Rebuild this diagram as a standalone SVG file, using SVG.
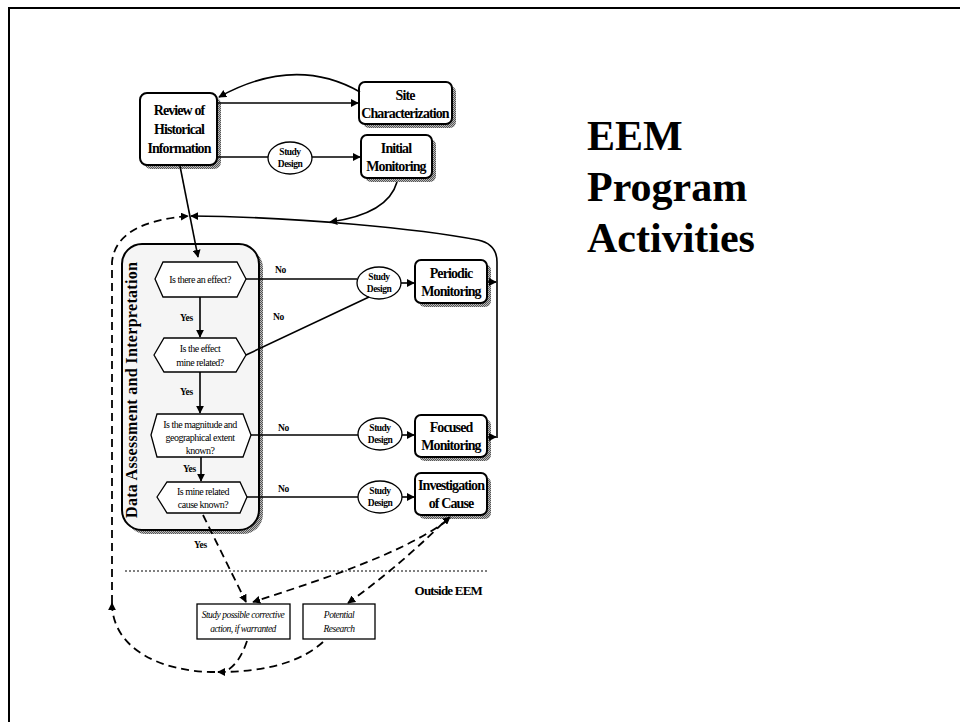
<svg xmlns="http://www.w3.org/2000/svg" width="960" height="722" viewBox="0 0 960 722">
<defs>
<marker id="ah" viewBox="0 0 10 10" refX="9" refY="5" markerWidth="8" markerHeight="8" markerUnits="userSpaceOnUse" orient="auto"><path d="M0,0 L10,5 L0,10 z" fill="#000"/></marker>
<pattern id="sh" width="2" height="2" patternUnits="userSpaceOnUse"><rect width="2" height="2" fill="#bbb"/><rect width="1" height="1" fill="#555"/><rect x="1" y="1" width="1" height="1" fill="#555"/></pattern>
<style>
.t{font-family:"Liberation Serif","Times New Roman",serif;fill:#000}
.bx{font-size:14px;font-weight:bold;letter-spacing:-0.9px;text-anchor:middle}
.q{font-size:10px;letter-spacing:-0.5px;text-anchor:middle}
.sd{font-size:9.5px;font-weight:bold;letter-spacing:-0.5px;text-anchor:middle}
.lb{font-size:9.5px;font-weight:bold;letter-spacing:-0.3px}
.it{font-size:9.5px;font-style:italic;letter-spacing:-0.5px;text-anchor:middle}
.box{fill:#fff;stroke:#000;stroke-width:2}
.shd{fill:url(#sh)}
.ln{fill:none;stroke:#000;stroke-width:1.6}
.ds{fill:none;stroke:#000;stroke-width:1.8;stroke-dasharray:8 5}
.el{fill:#fff;stroke:#000;stroke-width:1.3}
.hx{fill:#fff;stroke:#000;stroke-width:1.3}
</style>
</defs>
<rect width="960" height="722" fill="#fff"/>
<path d="M9,722 L9,8 L960,8" fill="none" stroke="#000" stroke-width="2"/>

<g id="container">
<rect x="126" y="248" width="137" height="286" rx="20" class="shd"/>
<rect x="122" y="244" width="137" height="286" rx="20" fill="#f5f5f5" stroke="#000" stroke-width="2"/>
<text class="t" x="0" y="0" font-size="16" font-weight="bold" text-anchor="middle" textLength="256" lengthAdjust="spacing" transform="translate(137,390) rotate(-90)">Data Assessment and Interpretation</text>
</g>

<g id="review">
<rect x="144" y="97" width="77" height="72" rx="7" class="shd"/>
<rect x="140" y="93" width="77" height="72" rx="7" class="box"/>
<text class="t bx" x="179" y="115">Review of</text>
<text class="t bx" x="179" y="134">Historical</text>
<text class="t bx" x="179" y="153">Information</text>
</g>
<g id="site">
<rect x="363" y="86" width="93" height="42" rx="6" class="shd"/>
<rect x="359" y="82" width="93" height="42" rx="6" class="box"/>
<text class="t bx" x="405" y="100">Site</text>
<text class="t bx" x="405" y="118">Characterization</text>
</g>
<g id="initial">
<rect x="365" y="139" width="71" height="43" rx="6" class="shd"/>
<rect x="361" y="135" width="71" height="43" rx="6" class="box"/>
<text class="t bx" x="396" y="153">Initial</text>
<text class="t bx" x="396" y="171">Monitoring</text>
</g>
<g id="periodic">
<rect x="419" y="264" width="72" height="43" rx="6" class="shd"/>
<rect x="415" y="260" width="72" height="43" rx="6" class="box"/>
<text class="t bx" x="451" y="278">Periodic</text>
<text class="t bx" x="451" y="296">Monitoring</text>
</g>
<g id="focused">
<rect x="419" y="419" width="72" height="42" rx="6" class="shd"/>
<rect x="415" y="415" width="72" height="42" rx="6" class="box"/>
<text class="t bx" x="451" y="432">Focused</text>
<text class="t bx" x="451" y="450">Monitoring</text>
</g>
<g id="investigation">
<rect x="419" y="477" width="72" height="42" rx="6" class="shd"/>
<rect x="415" y="473" width="72" height="42" rx="6" class="box"/>
<text class="t bx" x="451" y="490">Investigation</text>
<text class="t bx" x="451" y="508">of Cause</text>
</g>

<g id="sd1"><ellipse cx="290" cy="158" rx="22" ry="16" class="el"/><text class="t sd" x="290" y="155">Study</text><text class="t sd" x="290" y="167">Design</text></g>
<g id="sd2"><ellipse cx="379" cy="283" rx="22" ry="16" class="el"/><text class="t sd" x="379" y="280">Study</text><text class="t sd" x="379" y="292">Design</text></g>
<g id="sd3"><ellipse cx="380" cy="434" rx="22" ry="16" class="el"/><text class="t sd" x="380" y="431">Study</text><text class="t sd" x="380" y="443">Design</text></g>
<g id="sd4"><ellipse cx="380" cy="497" rx="22" ry="16" class="el"/><text class="t sd" x="380" y="494">Study</text><text class="t sd" x="380" y="506">Design</text></g>

<g id="q1"><polygon points="155,279 163,262 237,262 246,279 237,297 163,297" class="hx"/><text class="t q" x="200" y="283">Is there an effect?</text></g>
<g id="q2"><polygon points="154,355 164,338 236,338 246,355 236,372 164,372" class="hx"/><text class="t q" x="200" y="352">Is the effect</text><text class="t q" x="200" y="366">mine related?</text></g>
<g id="q3"><polygon points="151,435 157,414 243,414 251,435 243,457 157,457" class="hx"/><text class="t q" x="200" y="428">Is the magnitude and</text><text class="t q" x="200" y="441">geographical extent</text><text class="t q" x="200" y="454">known?</text></g>
<g id="q4"><polygon points="157,497 167,482 240,482 247,497 240,513 167,513" class="hx"/><text class="t q" x="203" y="495">Is mine related</text><text class="t q" x="203" y="508">cause known?</text></g>

<g id="study-action"><rect x="197" y="604" width="93" height="35" fill="#fff" stroke="#000" stroke-width="1.3"/><text class="t it" x="243" y="618">Study possible corrective</text><text class="t it" x="243" y="632">action, if warranted</text></g>
<g id="research"><rect x="303" y="604" width="72" height="35" fill="#fff" stroke="#000" stroke-width="1.3"/><text class="t it" x="339" y="618">Potential</text><text class="t it" x="339" y="632">Research</text></g>

<g id="title" class="t" font-size="42" font-weight="bold">
<text x="587" y="150">EEM</text>
<text x="587" y="201">Program</text>
<text x="587" y="252">Activities</text>
</g>

<g id="boundary">
<line x1="125" y1="571" x2="487" y2="571" stroke="#000" stroke-width="1" stroke-dasharray="2 2"/>
<text class="t" x="482" y="595" font-size="13" font-weight="bold" letter-spacing="-0.8" text-anchor="end">Outside EEM</text>
</g>

<g id="connectors">
<line x1="217" y1="103" x2="358" y2="103" class="ln" marker-end="url(#ah)"/>
<path d="M360,92 Q295,55 219,97" class="ln" marker-end="url(#ah)"/>
<line x1="217" y1="157" x2="268" y2="157" class="ln"/>
<line x1="312" y1="157" x2="360" y2="157" class="ln" marker-end="url(#ah)"/>
<path d="M397,182 Q388,214 330,222" class="ln" marker-end="url(#ah)"/>
<line x1="180" y1="166" x2="198" y2="257" class="ln" marker-end="url(#ah)"/>
<path d="M497,438 L497,262 Q497,244 478,240 C420,229 300,217 191,216" class="ln" marker-end="url(#ah)"/>
<line x1="488" y1="282" x2="496" y2="282" class="ln" marker-end="url(#ah)"/>
<line x1="488" y1="437" x2="496" y2="437" class="ln" marker-end="url(#ah)"/>

<line x1="200" y1="297" x2="200" y2="337" class="ln" marker-end="url(#ah)"/>
<line x1="200" y1="372" x2="200" y2="413" class="ln" marker-end="url(#ah)"/>
<line x1="201" y1="457" x2="201" y2="481" class="ln" marker-end="url(#ah)"/>
<text class="t lb" x="180" y="321">Yes</text>
<text class="t lb" x="180" y="395">Yes</text>
<text class="t lb" x="183" y="472">Yes</text>

<line x1="246" y1="279" x2="357" y2="279" class="ln"/>
<line x1="401" y1="283" x2="414" y2="283" class="ln" marker-end="url(#ah)"/>
<line x1="246" y1="355" x2="369" y2="297" class="ln"/>
<line x1="251" y1="435" x2="358" y2="435" class="ln"/>
<line x1="402" y1="435" x2="414" y2="435" class="ln" marker-end="url(#ah)"/>
<line x1="247" y1="497" x2="358" y2="497" class="ln"/>
<line x1="402" y1="497" x2="414" y2="497" class="ln" marker-end="url(#ah)"/>
<text class="t lb" x="275" y="273">No</text>
<text class="t lb" x="273" y="320">No</text>
<text class="t lb" x="278" y="431">No</text>
<text class="t lb" x="278" y="492">No</text>

<path d="M203,515 L246,602" class="ds" marker-end="url(#ah)"/>
<text class="t lb" x="194" y="548">Yes</text>
<path d="M448,520 C400,555 320,580 253,602" class="ds" marker-end="url(#ah)"/>
<path d="M443,523 L450,517" class="ln" marker-end="url(#ah)"/>
<path d="M443,523 C410,555 380,580 348,603" class="ds" marker-end="url(#ah)"/>
<path d="M323,642 Q290,672 218,672" class="ds" marker-end="url(#ah)"/>
<path d="M247,641 Q240,662 228,670" class="ds"/>
<path d="M215,672 C160,672 112,648 112,603" class="ds" marker-end="url(#ah)"/>
<path d="M112,603 L112,262 Q116,222 188,216" class="ds" marker-end="url(#ah)"/>
</g>
</svg>
